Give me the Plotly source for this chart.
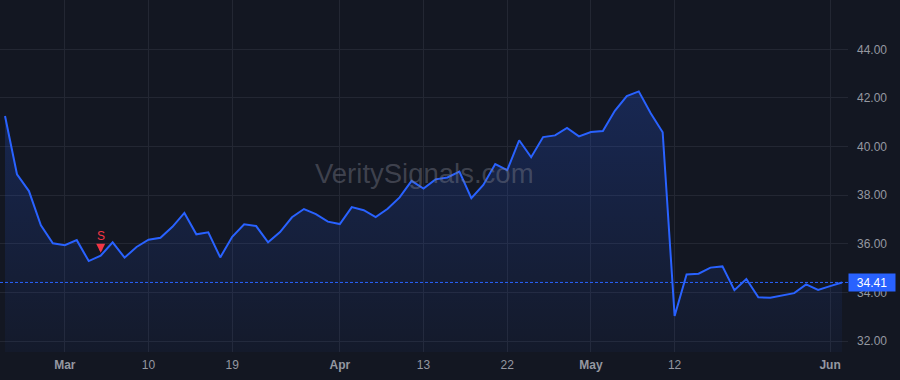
import plotly.graph_objects as go

# Daily closing prices (one value per trading day)
prices = [
    41.26, 38.86, 38.17, 36.76, 36.02, 35.94, 36.15, 35.29, 35.51, 36.06,
    35.43, 35.87, 36.17, 36.25, 36.70, 37.27, 36.39, 36.47, 35.44, 36.29,
    36.80, 36.73, 36.06, 36.48, 37.09, 37.43, 37.22, 36.91, 36.81, 37.51,
    37.38, 37.10, 37.44, 37.91, 38.59, 38.27, 38.65, 38.73, 38.97, 37.88,
    38.42, 39.28, 39.03, 40.26, 39.56, 40.39, 40.46, 40.77, 40.42, 40.60,
    40.64, 41.47, 42.08, 42.27, 41.37, 40.59, 33.03, 34.74, 34.77, 35.02,
    35.07, 34.09, 34.55, 33.80, 33.78, 33.89, 33.97, 34.33, 34.10, 34.26,
    34.41,
]
days = list(range(len(prices)))

# x-axis labels (trading-day index -> label)
tick_days = [5, 12, 19, 28, 35, 42, 49, 56, 69]
tick_labels = ["<b>Mar</b>", "10", "19", "<b>Apr</b>", "13", "22", "<b>May</b>", "12", "<b>Jun</b>"]

# signal
signal_day = 8
signal_text = "S"

last_price = prices[-1]

BG = "#131722"
GRID = "#232733"
BLUE = "#2962ff"
RED = "#f23645"
TXT = "#9598a1"

fig = go.Figure()
fig.add_trace(go.Scatter(
    x=days, y=prices, mode="lines",
    line=dict(color=BLUE, width=2),
    fill="tozeroy",
    fillgradient=dict(
        type="vertical",
        start=31.5, stop=42.3,
        colorscale=[[0, "rgba(41,98,255,0.04)"], [1, "rgba(41,98,255,0.22)"]],
    ),
    hoverinfo="skip",
))

# last price dashed line
fig.add_hline(y=last_price, line=dict(color=BLUE, width=1, dash="3px,2px"))

# watermark
fig.add_annotation(
    xref="paper", yref="paper", x=0.5, y=0.508,
    text="VeritySignals.com", showarrow=False,
    font=dict(family="Liberation Sans, Arial", size=27.5, color="rgba(125,128,140,0.42)"),
)

# sell signal: text then arrow
fig.add_annotation(
    x=signal_day, y=prices[signal_day], text=signal_text,
    showarrow=False, yshift=20,
    font=dict(family="Liberation Sans, Arial", size=12, color=RED),
)
fig.add_annotation(
    x=signal_day, y=prices[signal_day], text="",
    showarrow=True, arrowhead=2, arrowsize=0.6, arrowwidth=3, arrowcolor=RED,
    ax=0, ay=-13, standoff=3,
)

# last price label
fig.add_annotation(
    xref="paper", x=1.0, xanchor="left", y=last_price, yanchor="middle",
    text=f"{last_price:.2f}", showarrow=False,
    bgcolor=BLUE, width=44, height=15, borderpad=1,
    font=dict(family="Liberation Sans, Arial", size=12, color="#ffffff"),
)

fig.update_layout(
    width=900, height=380,
    margin=dict(l=0, r=52, t=0, b=28),
    paper_bgcolor=BG, plot_bgcolor=BG,
    showlegend=False,
    font=dict(family="Liberation Sans, Arial", size=12, color=TXT),
)
fig.update_xaxes(
    range=[-0.42, 70.5],
    tickmode="array", tickvals=tick_days, ticktext=tick_labels,
    showgrid=True, gridcolor=GRID, gridwidth=1,
    zeroline=False, showline=False, ticks="",
    tickfont=dict(size=12, color=TXT),
    ticklabelstandoff=4,
)
fig.update_yaxes(
    side="right", range=[31.548, 46.03],
    tick0=32, dtick=2, tickformat=".2f",
    showgrid=True, gridcolor=GRID, gridwidth=1,
    zeroline=False, showline=False, ticks="",
    tickfont=dict(size=12, color=TXT),
    ticklabelstandoff=8,
)

fig.write_html("out.html")
